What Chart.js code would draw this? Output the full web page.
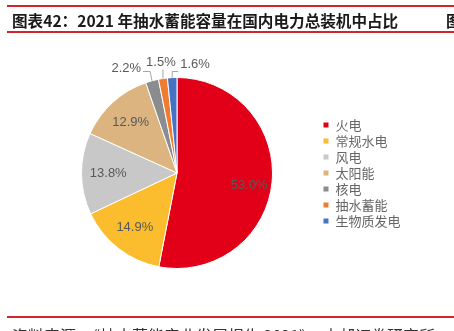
<!DOCTYPE html>
<html>
<head>
<meta charset="utf-8">
<script src="https://cdn.jsdelivr.net/npm/chart.js@4.4.0/dist/chart.umd.min.js"></script>
<style>
  html, body { margin: 0; padding: 0; background: #fff; overflow: hidden; }
  #wrap { position: relative; width: 454px; height: 331px; }
  #chart { position: absolute; left: 0; top: 0; }
  .rule { position: absolute; left: 7px; right: 0; height: 2px; background: #d0262b; }
  #title { position: absolute; left: 12px; top: 9px; font: bold 15.6px "Noto Sans CJK SC", sans-serif; color: #1a1a1a; white-space: nowrap; line-height: 22px; }
  #title2 { position: absolute; left: 446px; top: 9px; font: bold 15.6px "Noto Sans CJK SC", sans-serif; color: #1a1a1a; line-height: 22px; }
  #source { position: absolute; left: 12px; top: 324px; font: 16px "Noto Sans CJK SC", sans-serif; color: #333; white-space: nowrap; line-height: 22px; }
</style>
</head>
<body>
<div id="wrap">
  <canvas id="chart" width="454" height="331"></canvas>
  <div class="rule" style="top:5px"></div>
  <div id="title">图表42：2021 年抽水蓄能容量在国内电力总装机中占比</div>
  <div id="title2">图</div>
  <div class="rule" style="top:31px"></div>
  <div class="rule" style="top:316px"></div>
  <div id="source">资料来源：《抽水蓄能产业发展报告 2021》，中邮证券研究所，</div>
</div>
<script>
// Installed capacity share, 2021 (%)
const categories = ['火电', '常规水电', '风电', '太阳能', '核电', '抽水蓄能', '生物质发电'];
const shares = [53.0, 14.9, 13.8, 12.9, 2.2, 1.5, 1.6];
const sliceColors = ['#e10017', '#fbbc2e', '#c8c8c8', '#dcb47f', '#8a8c8e', '#ee7d31', '#4472c4'];

// labels drawn inside the slice vs. outside with a leader line
const outside = [false, false, false, false, true, true, true];

const sliceLabels = {
  id: 'sliceLabels',
  afterDatasetsDraw(chart) {
    const ctx = chart.ctx;
    const arcs = chart.getDatasetMeta(0).data;
    ctx.save();
    ctx.font = '13px "Liberation Sans", Arial, sans-serif';
    ctx.fillStyle = '#595959';
    ctx.textBaseline = 'middle';
    arcs.forEach((arc, i) => {
      const mid = (arc.startAngle + arc.endAngle) / 2;
      const cx = arc.x, cy = arc.y, r = arc.outerRadius;
      const txt = shares[i].toFixed(1) + '%';
      if (!outside[i]) {
        const k = i === 0 ? 0.76 : 0.72;
        ctx.textAlign = 'center';
        ctx.fillText(txt, cx + Math.cos(mid) * r * k, cy + Math.sin(mid) * r * k + (i === 0 ? 5 : 0));
        return;
      }
      const px = cx + Math.cos(mid) * r;
      const py = cy + Math.sin(mid) * r;
      ctx.strokeStyle = '#a6a6a6';
      ctx.lineWidth = 1;
      ctx.beginPath();
      ctx.moveTo(px, py);
      if (i === 4) {
        const ey = cy - r - 6;
        ctx.lineTo(px - 2, ey);
        ctx.lineTo(px - 9, ey);
        ctx.stroke();
        ctx.textAlign = 'right';
        ctx.fillText(txt, px - 11, ey - 3);
      } else if (i === 5) {
        const ey = cy - r - 8;
        ctx.lineTo(px, ey);
        ctx.stroke();
        ctx.textAlign = 'center';
        ctx.fillText(txt, px - 2, ey - 7);
      } else {
        const ey = cy - r - 6;
        ctx.lineTo(px, ey);
        ctx.lineTo(px + 6, ey);
        ctx.stroke();
        ctx.textAlign = 'left';
        ctx.fillText(txt, px + 8, ey - 7);
      }
    });
    ctx.restore();
  }
};

new Chart(document.getElementById('chart').getContext('2d'), {
  type: 'pie',
  data: {
    labels: categories,
    datasets: [{
      data: shares,
      backgroundColor: sliceColors,
      borderColor: '#ffffff',
      borderWidth: 1
    }]
  },
  options: {
    responsive: false,
    animation: false,
    layout: { padding: { left: 34, right: 43.5, top: 77, bottom: 62 } },
    plugins: {
      tooltip: { enabled: false },
      legend: {
        position: 'right',
        labels: {
          boxWidth: 6,
          boxHeight: 6,
          padding: 3,
          color: '#666666',
          font: { size: 13, family: '"Noto Sans CJK SC", sans-serif' }
        }
      }
    }
  },
  plugins: [sliceLabels]
});
</script>
</body>
</html>
